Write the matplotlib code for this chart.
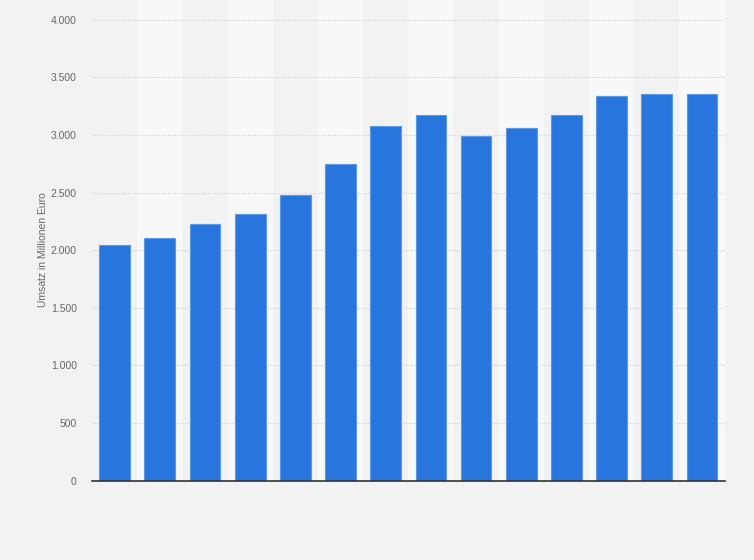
import matplotlib.pyplot as plt
import matplotlib.ticker as mticker

plt.rcParams['font.family'] = ['Liberation Sans', 'DejaVu Sans']

# Umsatz in Millionen Euro, 14 Jahre (keine Achsenbeschriftung im Original)
values = [2042, 2103, 2225, 2311, 2476, 2745, 3075, 3173, 2988, 3058, 3173, 3338, 3355, 3355]
yticks = [0, 500, 1000, 1500, 2000, 2500, 3000, 3500, 4000]

bg = '#f2f2f2'
band = '#f8f8f8'
bar_color = '#2876dd'

fig = plt.figure(figsize=(7.54, 5.6), dpi=100, facecolor=bg)
ax = fig.add_axes([0.122, 0.1416, 0.839, 0.8584])
ax.set_facecolor(bg)

x = list(range(len(values)))

# alternating column shading
for i in x:
    if i % 2 == 1:
        ax.axvspan(i - 0.5, i + 0.5, color=band, zorder=0, lw=0)

ax.bar(x, values, width=0.68, color=bar_color, edgecolor='#5d9ae6',
       linewidth=0.8, zorder=3)

ax.set_xlim(-0.5, len(values) - 0.5)
ax.set_ylim(0, 4171)
ax.set_yticks(yticks)
ax.yaxis.set_major_formatter(mticker.FuncFormatter(
    lambda v, p: f'{int(v):,}'.replace(',', '.')))
ax.grid(axis='y', color='#d8d8d8', linestyle=(0, (1, 1)), linewidth=0.8, zorder=1)
ax.set_xticks([])

for s in ['top', 'right', 'left']:
    ax.spines[s].set_visible(False)
ax.spines['bottom'].set_color('#333333')
ax.spines['bottom'].set_linewidth(1.2)
ax.spines['bottom'].set_zorder(4)

ax.tick_params(axis='y', length=0, pad=11, labelsize=7.5, labelcolor='#666666')
ax.set_ylabel('Umsatz in Millionen Euro', fontsize=7.5, color='#666666')
ax.yaxis.set_label_coords(-0.07, 0.48)

fig.savefig('out.png', dpi=100, facecolor=bg)
